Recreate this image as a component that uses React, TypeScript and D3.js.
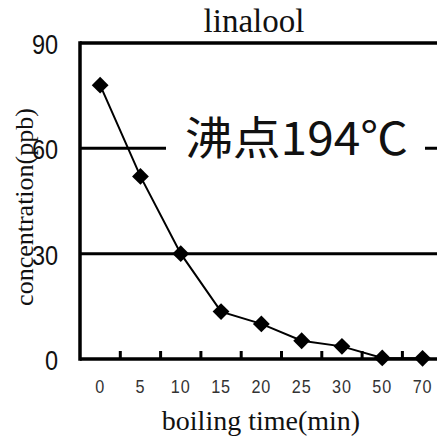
import React from "react";
import * as d3 from "d3";

const categories = ["0", "5", "10", "15", "20", "25", "30", "50", "70"];
const values = [78, 52, 30, 13.5, 10, 5.2, 3.6, 0.3, 0.2];
const yTicks = [0, 30, 60, 90];
const gridValues = [30, 60];

export default function App() {
  const W = 437, H = 439;
  const left = 80, top = 43, bottom = 359;
  const x = d3.scaleBand<string>().domain(categories).range([left, left + 9 * 40.3]).padding(0);
  const y = d3.scaleLinear().domain([0, 90]).range([bottom, top]);
  const cx = (c: string) => (x(c) as number) + x.bandwidth() / 2;
  const line = d3.line<number>().x((_, i) => cx(categories[i])).y((v) => y(v));
  const right = left + 9 * 40.3;
  const diamond = d3.symbol().type(d3.symbolDiamond2 ?? d3.symbolDiamond).size(180)();
  return (
    <svg width={W} height={H} style={{ position: "absolute", left: 0, top: 0, background: "#fff" }}>
      <rect x={0} y={0} width={W} height={H} fill="#fff" />
      <text x={254} y={32} textAnchor="middle" fontFamily="Liberation Serif" fontSize={33} fill="#111">linalool</text>
      {gridValues.map((g) => (
        <line key={g} x1={left} x2={right} y1={y(g)} y2={y(g)} stroke="#000" strokeWidth={3} />
      ))}
      <line x1={left} x2={right} y1={y(90)} y2={y(90)} stroke="#000" strokeWidth={3.5} />
      <rect x={166} y={y(60) - 14} width={259} height={28} fill="#fff" />
      <text x={185} y={155} fontFamily="Noto Sans CJK JP" fontSize={45} textLength={223} lengthAdjust="spacingAndGlyphs" fill="#111">沸点194℃</text>
      <path d={line(values) || ""} fill="none" stroke="#000" strokeWidth={2} />
      {values.map((v, i) => (
        <path key={i} d={diamond || ""} transform={`translate(${cx(categories[i])},${y(v)})`} fill="#000" />
      ))}
      <line x1={left} x2={left} y1={top - 1.75} y2={bottom + 1.75} stroke="#000" strokeWidth={3.5} />
      <line x1={left} x2={right} y1={bottom} y2={bottom} stroke="#000" strokeWidth={3.5} />
      {categories.slice(1).map((c) => (
        <line key={c} x1={x(c) as number} x2={x(c) as number} y1={bottom} y2={bottom - 8} stroke="#000" strokeWidth={3} />
      ))}
      {yTicks.map((t) => (
        <text key={t} transform={`translate(58,${y(t) + 11}) scale(0.87,1)`} textAnchor="end" fontFamily="Liberation Sans" fontSize={27} fill="#111">{t}</text>
      ))}
      {categories.map((c) => (
        <text key={c} transform={`translate(${cx(c)},393) scale(0.9,1)`} textAnchor="middle" fontFamily="Liberation Sans" fontSize={18} fill="#333" letterSpacing={1}>{c}</text>
      ))}
      <text x={261} y={430} textAnchor="middle" fontFamily="Liberation Serif" fontSize={28} fill="#111">boiling time(min)</text>
      <text transform={`translate(33,${207}) rotate(-90)`} textAnchor="middle" fontFamily="Liberation Serif" fontSize={26} fill="#111">concentration(ppb)</text>
    </svg>
  );
}
